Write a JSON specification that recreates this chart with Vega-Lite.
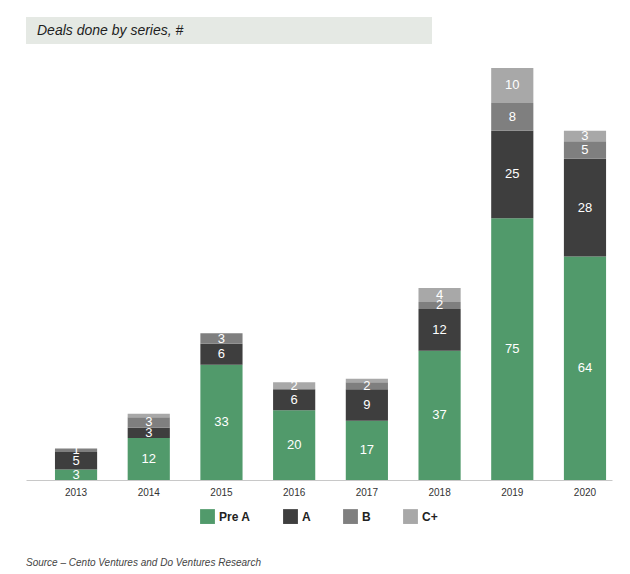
{
  "$schema": "https://vega.github.io/schema/vega-lite/v6.json",
  "padding": {"left": 26, "top": 17, "right": 5, "bottom": 5},
  "background": "white",
  "title": {"text": "Source – Cento Ventures and Do Ventures Research", "orient": "bottom", "anchor": "start", "fontSize": 10, "fontStyle": "italic", "fontWeight": "normal", "color": "#444444", "font": "Liberation Sans", "offset": 34},
  "config": {"view": {"stroke": null}, "font": "Liberation Sans", "concat": {"spacing": 24}, "legend": {"layout": {"bottom": {"anchor": "middle"}}}},
  "vconcat": [
    {
      "width": 406,
      "height": 27,
      "view": {"fill": "#e5e9e4", "stroke": null},
      "data": {"values": [{"t": "Deals done by series, #"}]},
      "mark": {"type": "text", "align": "left", "baseline": "middle", "fontSize": 14, "fontStyle": "italic", "color": "#1e1e1e", "font": "Liberation Sans"},
      "encoding": {"x": {"value": 11}, "y": {"value": 14}, "text": {"field": "t"}}
    },
    {
      "width": 586,
      "height": 412,
      "data": {"values": [
        {"year": "2013", "series": "Pre A", "n": 3}, {"year": "2013", "series": "A", "n": 5}, {"year": "2013", "series": "B", "n": 1}, {"year": "2013", "series": "C+", "n": 0},
        {"year": "2014", "series": "Pre A", "n": 12}, {"year": "2014", "series": "A", "n": 3}, {"year": "2014", "series": "B", "n": 3}, {"year": "2014", "series": "C+", "n": 1},
        {"year": "2015", "series": "Pre A", "n": 33}, {"year": "2015", "series": "A", "n": 6}, {"year": "2015", "series": "B", "n": 3}, {"year": "2015", "series": "C+", "n": 0},
        {"year": "2016", "series": "Pre A", "n": 20}, {"year": "2016", "series": "A", "n": 6}, {"year": "2016", "series": "B", "n": 0}, {"year": "2016", "series": "C+", "n": 2},
        {"year": "2017", "series": "Pre A", "n": 17}, {"year": "2017", "series": "A", "n": 9}, {"year": "2017", "series": "B", "n": 2}, {"year": "2017", "series": "C+", "n": 1},
        {"year": "2018", "series": "Pre A", "n": 37}, {"year": "2018", "series": "A", "n": 12}, {"year": "2018", "series": "B", "n": 2}, {"year": "2018", "series": "C+", "n": 4},
        {"year": "2019", "series": "Pre A", "n": 75}, {"year": "2019", "series": "A", "n": 25}, {"year": "2019", "series": "B", "n": 8}, {"year": "2019", "series": "C+", "n": 10},
        {"year": "2020", "series": "Pre A", "n": 64}, {"year": "2020", "series": "A", "n": 28}, {"year": "2020", "series": "B", "n": 5}, {"year": "2020", "series": "C+", "n": 3}
      ]},
      "transform": [
        {"calculate": "indexof(['Pre A','A','B','C+'], datum.series)", "as": "ord"},
        {"stack": "n", "groupby": ["year"], "sort": [{"field": "ord", "order": "ascending"}], "as": ["y0", "y1"]},
        {"calculate": "(datum.y0 + datum.y1) / 2", "as": "ymid"}
      ],
      "encoding": {
        "x": {"field": "year", "type": "ordinal", "title": null,
              "scale": {"paddingInner": 0.42, "paddingOuter": 0.24, "align": 0.83},
              "axis": {"labelAngle": 0, "ticks": false, "labelFontSize": 10, "labelColor": "#333333", "domainColor": "#c8c8c8", "labelPadding": 7}}
      },
      "layer": [
        {
          "mark": {"type": "bar"},
          "encoding": {
            "y": {"field": "y0", "type": "quantitative", "scale": {"domain": [0, 118], "nice": false}, "axis": null},
            "y2": {"field": "y1"},
            "color": {"field": "series", "type": "nominal", "title": null,
                      "scale": {"domain": ["Pre A", "A", "B", "C+"], "range": ["#519a6b", "#3e3e3e", "#7f7f7f", "#a8a8a8"]},
                      "legend": {"orient": "bottom", "direction": "horizontal", "symbolType": "square", "symbolSize": 220, "symbolStrokeWidth": 0, "labelFontSize": 12, "labelFontWeight": "bold", "labelColor": "#222222", "columnPadding": 32, "offset": 12, "symbolOpacity": 1}}
          }
        },
        {
          "transform": [{"filter": "datum.n >= 2 || datum.year == '2013' && datum.n > 0"}],
          "mark": {"type": "text", "color": "white", "fontSize": 13, "baseline": "middle"},
          "encoding": {
            "y": {"field": "ymid", "type": "quantitative", "scale": {"domain": [0, 118], "nice": false}},
            "text": {"field": "n", "type": "quantitative"}
          }
        }
      ]
    }
  ]
}
